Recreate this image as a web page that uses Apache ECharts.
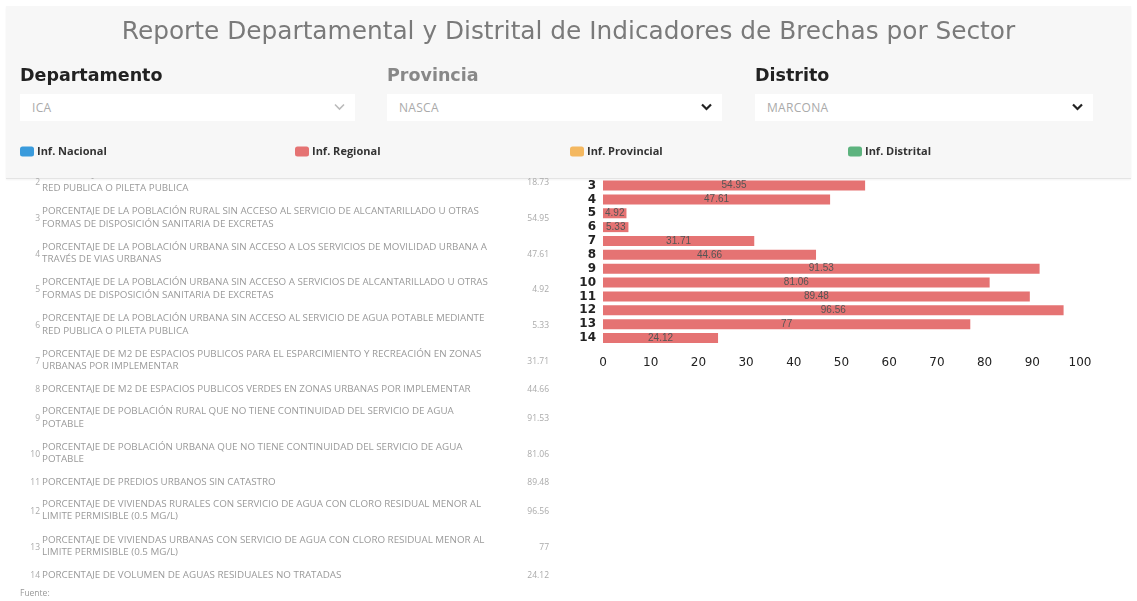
<!DOCTYPE html>
<html>
<head>
<meta charset="utf-8">
<script src="https://cdn.jsdelivr.net/npm/echarts@6/dist/echarts.min.js"></script>
<style>
  html, body { margin:0; padding:0; width:1137px; height:601px; background:#fff; overflow:hidden; font-family:"Open Sans", sans-serif; }
  #panel { position:absolute; left:6px; top:6px; width:1125px; height:172px; background:#f7f7f7; border-bottom:1px solid #e4e4e4; box-shadow:0 1px 2px rgba(0,0,0,0.05); z-index:0; }
  #chart { position:absolute; left:0; top:0; width:1137px; height:601px; z-index:1; }
  .lbl { position:absolute; top:65px; font-size:17.5px; font-weight:700; color:#222; z-index:2; font-family:"DejaVu Sans", sans-serif; }
  .sel { position:absolute; top:94px; height:27px; background:#fff; z-index:2; font-size:12px; color:#aaa; box-sizing:border-box; padding-left:12px; line-height:27px; letter-spacing:0.3px; }
  .sel svg { position:absolute; right:10px; top:9px; }
  #table { position:absolute; left:0; top:178px; width:570px; height:404px; overflow:hidden; z-index:2; }
  .row { position:absolute; left:0; width:560px; display:flex; align-items:center; }
  .num { width:42px; text-align:right; font-size:8.5px; color:#aaa; padding-right:2px; box-sizing:border-box; }
  .txt { width:460px; font-size:9.8px; line-height:12.5px; color:#9a9a9a; white-space:pre-line; letter-spacing:0px; }
  .val { width:47px; text-align:right; font-size:8.5px; color:#aaa; }
  #fuente { position:absolute; left:20px; top:587px; font-size:8.5px; color:#999; z-index:2; }
</style>
</head>
<body>
<div id="panel"></div>
<div id="chart"></div>
<div class="lbl" style="left:20px;">Departamento</div>
<div class="lbl" style="left:387px;color:#888;">Provincia</div>
<div class="lbl" style="left:755px;">Distrito</div>
<div class="sel" style="left:20px;width:335px;">ICA<svg width="11" height="8" viewBox="0 0 11 8"><polyline points="1,1.5 5.5,6 10,1.5" fill="none" stroke="#bbb" stroke-width="1.6"/></svg></div>
<div class="sel" style="left:387px;width:335px;">NASCA<svg width="11" height="8" viewBox="0 0 11 8"><polyline points="1,1.5 5.5,6 10,1.5" fill="none" stroke="#222" stroke-width="2.2"/></svg></div>
<div class="sel" style="left:755px;width:338px;">MARCONA<svg width="11" height="8" viewBox="0 0 11 8"><polyline points="1,1.5 5.5,6 10,1.5" fill="none" stroke="#222" stroke-width="2.2"/></svg></div>
<div id="table"></div>
<div id="fuente">Fuente:</div>
<script>
// ---- data ----
const titleText = 'Reporte Departamental y Distrital de Indicadores de Brechas por Sector';
const legendNames = ['Inf. Nacional', 'Inf. Regional', 'Inf. Provincial', 'Inf. Distrital'];
const legendColors = ['#3A9BDC', '#E57373', '#F4B860', '#5DB37E'];
const categories = ['3','4','5','6','7','8','9','10','11','12','13','14'];
const regionalValues = [54.95, 47.61, 4.92, 5.33, 31.71, 44.66, 91.53, 81.06, 89.48, 96.56, 77, 24.12];
const xTicks = [0,10,20,30,40,50,60,70,80,90,100];

const tableIds = ['2','3','4','5','6','7','8','9','10','11','12','13','14'];
const tableLabels = [
  'PORCENTAJE DE LA POBLACIÓN RURAL SIN ACCESO AL SERVICIO DE AGUA POTABLE MEDIANTE\nRED PUBLICA O PILETA PUBLICA',
  'PORCENTAJE DE LA POBLACIÓN RURAL SIN ACCESO AL SERVICIO DE ALCANTARILLADO U OTRAS\nFORMAS DE DISPOSICIÓN SANITARIA DE EXCRETAS',
  'PORCENTAJE DE LA POBLACIÓN URBANA SIN ACCESO A LOS SERVICIOS DE MOVILIDAD URBANA A\nTRAVÉS DE VIAS URBANAS',
  'PORCENTAJE DE LA POBLACIÓN URBANA SIN ACCESO A SERVICIOS DE ALCANTARILLADO U OTRAS\nFORMAS DE DISPOSICIÓN SANITARIA DE EXCRETAS',
  'PORCENTAJE DE LA POBLACIÓN URBANA SIN ACCESO AL SERVICIO DE AGUA POTABLE MEDIANTE\nRED PUBLICA O PILETA PUBLICA',
  'PORCENTAJE DE M2 DE ESPACIOS PUBLICOS PARA EL ESPARCIMIENTO Y RECREACIÓN EN ZONAS\nURBANAS POR IMPLEMENTAR',
  'PORCENTAJE DE M2 DE ESPACIOS PUBLICOS VERDES EN ZONAS URBANAS POR IMPLEMENTAR',
  'PORCENTAJE DE POBLACIÓN RURAL QUE NO TIENE CONTINUIDAD DEL SERVICIO DE AGUA\nPOTABLE',
  'PORCENTAJE DE POBLACIÓN URBANA QUE NO TIENE CONTINUIDAD DEL SERVICIO DE AGUA\nPOTABLE',
  'PORCENTAJE DE PREDIOS URBANOS SIN CATASTRO',
  'PORCENTAJE DE VIVIENDAS RURALES CON SERVICIO DE AGUA CON CLORO RESIDUAL MENOR AL\nLIMITE PERMISIBLE (0.5 MG/L)',
  'PORCENTAJE DE VIVIENDAS URBANAS CON SERVICIO DE AGUA CON CLORO RESIDUAL MENOR AL\nLIMITE PERMISIBLE (0.5 MG/L)',
  'PORCENTAJE DE VOLUMEN DE AGUAS RESIDUALES NO TRATADAS'
];
const tableValues = ['18.73','54.95','47.61','4.92','5.33','31.71','44.66','91.53','81.06','89.48','96.56','77','24.12'];

// ---- table ----
(function(){
  const t = document.getElementById('table');
  let y = -14;
  tableIds.forEach((id, i) => {
    const lines = tableLabels[i].split('\n').length;
    const h = lines === 2 ? 35.7 : 21.5;
    const r = document.createElement('div');
    r.className = 'row';
    r.style.top = y + 'px';
    r.style.height = h + 'px';
    r.innerHTML = '<div class="num">' + id + '</div><div class="txt"></div><div class="val">' + tableValues[i] + '</div>';
    r.querySelector('.txt').textContent = tableLabels[i];
    t.appendChild(r);
    y += h;
  });
})();

// ---- chart ----
const chart = echarts.init(document.getElementById('chart'), null, {renderer:'canvas'});
const legendLefts = [20, 295, 570, 848];
const option = {
  backgroundColor: 'transparent',
  animation: false,
  title: {
    text: titleText, left: 'center', top: 15,
    textStyle: { fontSize: 24.8, color: '#7a7a7a', fontWeight: 'normal', fontFamily: 'DejaVu Sans' }
  },
  color: legendColors,
  legend: legendNames.map((n, i) => ({
    data: [n], left: legendLefts[i], top: 146, padding: 0,
    icon: 'roundRect', itemWidth: 14, itemHeight: 10, itemGap: 4,
    textStyle: { fontSize: 11, fontWeight: 'bold', color: '#333', fontFamily: 'Open Sans', padding: [0,0,0,-2] }
  })),
  grid: { left: 603, right: 57, top: 178.6, height: 166.4, containLabel: false },
  xAxis: {
    type: 'value', min: xTicks[0], max: xTicks[xTicks.length-1], interval: 10,
    splitLine: { show: false }, axisLine: { show: false }, axisTick: { show: false },
    axisLabel: {
      fontSize: 12, margin: 12, fontFamily: 'DejaVu Sans',
      color: function(v){ return v === 0 ? '#bbb' : '#222'; }
    }
  },
  yAxis: {
    type: 'category', data: categories, inverse: true,
    axisLine: { show: false }, axisTick: { show: false },
    axisLabel: { interval: 0, fontSize: 12, fontWeight: 'bold', color: '#222', margin: 7, fontFamily: 'DejaVu Sans', lineHeight: 13 }
  },
  series: legendNames.map((n, i) => ({
    name: n, type: 'bar', barWidth: 10, barGap: '-100%',
    data: i === 1 ? regionalValues : [],
    itemStyle: { color: legendColors[i] },
    label: { show: i === 1, position: 'inside', fontSize: 10, color: '#555' }
  }))
};
chart.setOption(option);
</script>
</body>
</html>
